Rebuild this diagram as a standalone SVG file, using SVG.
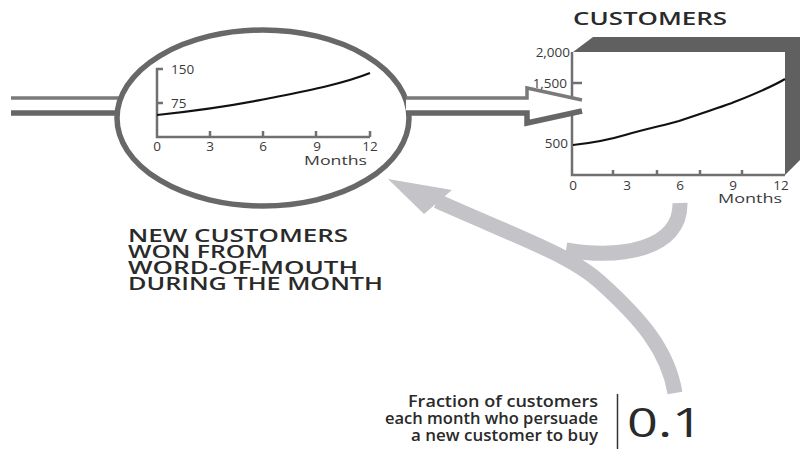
<svg xmlns="http://www.w3.org/2000/svg" width="800" height="449" viewBox="0 0 800 449">
<style>
text{font-family:"Open Sans","Liberation Sans",sans-serif;fill:#2a2a2a}
.h{font-weight:600;font-size:18px}
.ax{font-size:13.5px;fill:#3a3a3a}
.axis{stroke:#707070;stroke-width:2.5;fill:none}
.curve{stroke:#111;stroke-width:2.2;fill:none}
.pipe1{stroke:#7a7a7a;stroke-width:3.5;fill:none}
.pipe2{stroke:#666;stroke-width:5.5;fill:none}
.band{stroke:#c4c4c8;stroke-width:15;fill:none}
.q{font-weight:600;font-size:16.5px}
</style>
<rect width="800" height="449" fill="#fff"/>

<g id="connectors">
  <path class="band" d="M680,203 C681,250 620,259 566,250"/>
  <path class="band" d="M437,201 C520,238 570,255 600,282 C640,318 668,350 675,393"/>
  <polygon points="388,179 452,190 424,214" fill="#c4c4c8"/>
</g>

<g id="inflow-pipe">
  <line class="pipe1" x1="11" y1="98" x2="122" y2="98"/>
  <line class="pipe2" x1="11" y1="113" x2="122" y2="113"/>
</g>

<g id="new-customers">
  <ellipse cx="263" cy="118" rx="146" ry="88" fill="#fff" stroke="#686868" stroke-width="5.5"/>
  <path class="axis" d="M163,69 H157 V137 H370 M157,103 H163 M210,137 V131 M263,137 V131 M316,137 V131 M370,137 V131"/>
  <path class="curve" d="M157,115 C185,112 230,106 263,99.5 C300,92 340,85 370,73"/>
  <text class="ax" x="171" y="74" font-size="14">150</text>
  <text class="ax" x="171" y="108" font-size="14">75</text>
  <text class="ax" x="157" y="151" text-anchor="middle">0</text>
  <text class="ax" x="210" y="151" text-anchor="middle">3</text>
  <text class="ax" x="263" y="151" text-anchor="middle">6</text>
  <text class="ax" x="317" y="151" text-anchor="middle">9</text>
  <text class="ax" x="370" y="151" text-anchor="middle">12</text>
  <text class="ax" x="304" y="165" textLength="63" lengthAdjust="spacingAndGlyphs">Months</text>
</g>

<g id="customers">
  <text class="h" x="573" y="25" font-size="18.5" textLength="154" lengthAdjust="spacingAndGlyphs">CUSTOMERS</text>
  <polygon points="573,52 593,37 800,37 800,160 785,175 785,52" fill="#606060"/>
  <rect x="573" y="52" width="212" height="123" fill="#fff"/>
  <path class="axis" d="M572,52 V175 H785 M572,83 H582 M613,175 V170 M657,175 V170 M700,175 V170 M742,175 V170" stroke-width="4"/>
  <path class="curve" d="M573,145 C600,142 615,138 626,134.7 C650,128 665,125 679,121 C700,114 715,109 732,103 C752,95 770,88 785,79"/>
  <text class="ax" x="570" y="57" text-anchor="end">2,000</text>
  <text class="ax" x="567" y="88" text-anchor="end">1,500</text>
  <text class="ax" x="568" y="148" text-anchor="end">500</text>
  <text class="ax" x="573" y="190" text-anchor="middle">0</text>
  <text class="ax" x="627" y="190" text-anchor="middle">3</text>
  <text class="ax" x="680" y="190" text-anchor="middle">6</text>
  <text class="ax" x="733" y="190" text-anchor="middle">9</text>
  <text class="ax" x="781" y="190" text-anchor="middle">12</text>
  <text class="ax" x="718" y="203" textLength="64" lengthAdjust="spacingAndGlyphs">Months</text>
</g>

<g id="flow-arrow">
  <polygon points="406,98 527,98 527,88 582,100 582,111 527,123 527,113 406,113" fill="#fff"/>
  <path class="pipe1" d="M406,98 H527 V88 L582,100"/>
  <path class="pipe2" d="M406,113 H527 V123 L582,111"/>
</g>

<g id="label-new">
  <text class="h"><tspan x="128" y="242" textLength="220" lengthAdjust="spacingAndGlyphs">NEW CUSTOMERS</tspan><tspan x="128" y="258" textLength="140" lengthAdjust="spacingAndGlyphs">WON FROM</tspan><tspan x="128" y="274" textLength="230" lengthAdjust="spacingAndGlyphs">WORD-OF-MOUTH</tspan><tspan x="128" y="290" textLength="255" lengthAdjust="spacingAndGlyphs">DURING THE MONTH</tspan></text>
</g>

<g id="fraction">
  <text class="q" x="598" y="407" text-anchor="end" textLength="190" lengthAdjust="spacingAndGlyphs">Fraction of customers</text>
  <text class="q" x="598" y="424" text-anchor="end" textLength="213" lengthAdjust="spacingAndGlyphs">each month who persuade</text>
  <text class="q" x="598" y="441" text-anchor="end" textLength="187" lengthAdjust="spacingAndGlyphs">a new customer to buy</text>
  <line x1="617.5" y1="394" x2="617.5" y2="449" stroke="#333" stroke-width="1.5"/>
  <text x="627" y="437" font-size="40" fill="#333" textLength="76" lengthAdjust="spacingAndGlyphs">0.1</text>
</g>
</svg>
